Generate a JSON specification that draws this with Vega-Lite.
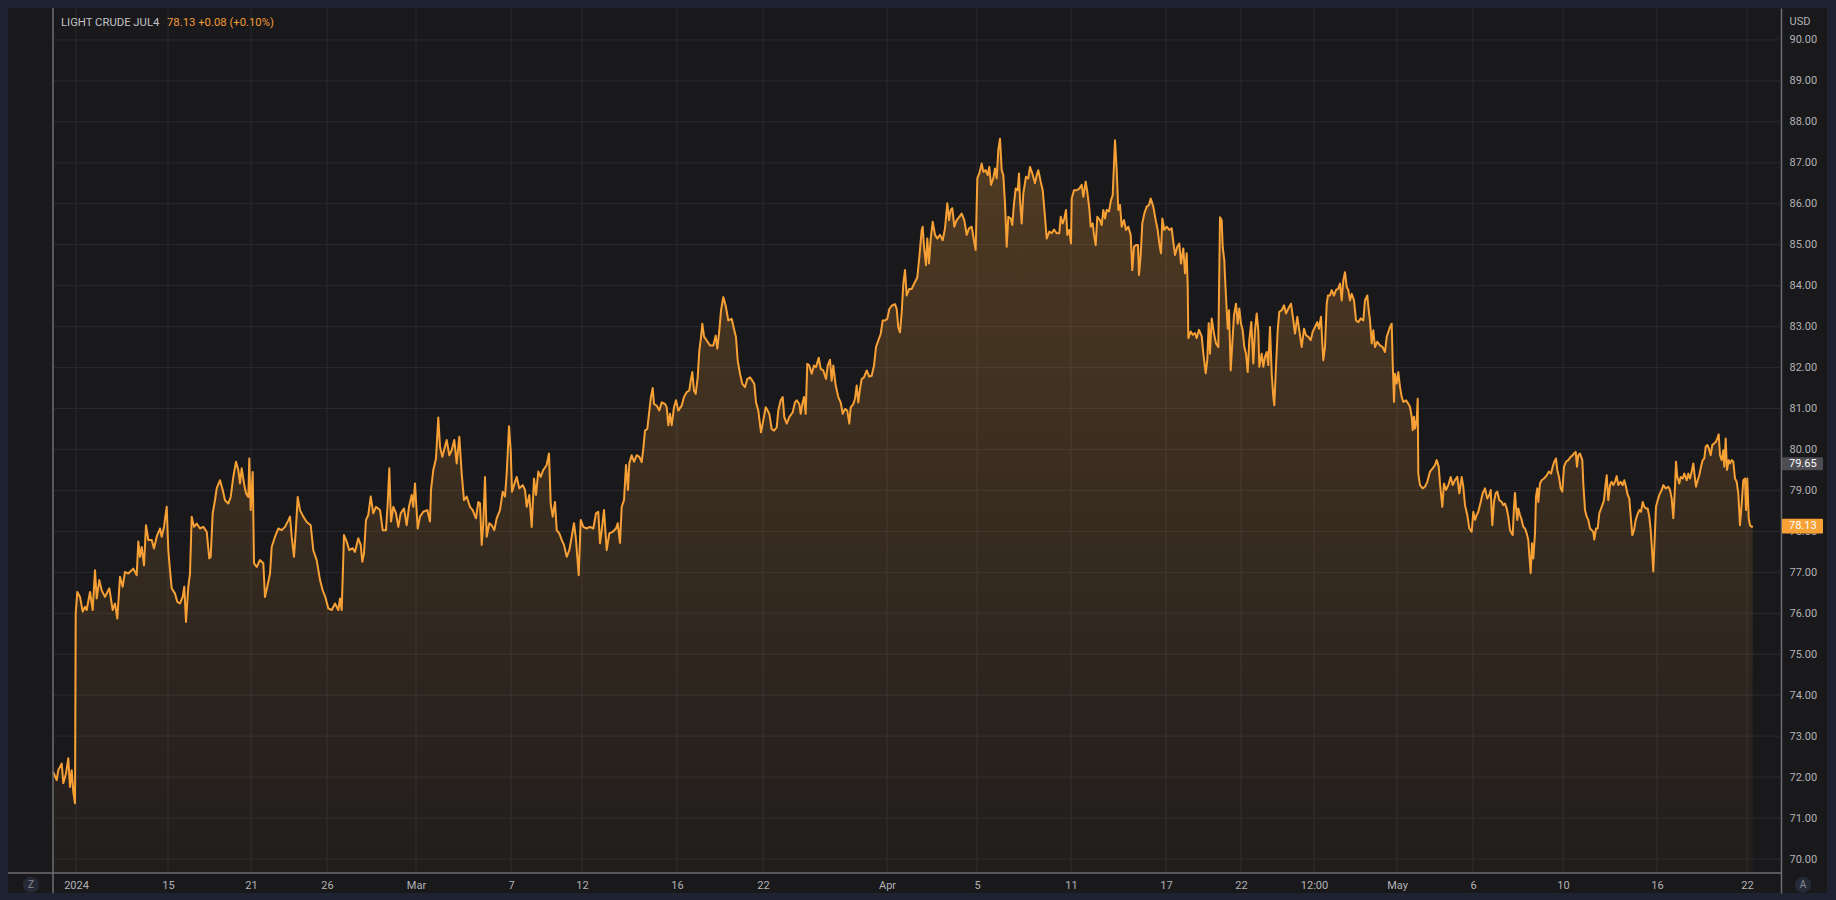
{
"$schema":"https://vega.github.io/schema/vega-lite/v6.json",
"width":1819,"height":885,
"autosize":{"type":"none"},
"padding":{"left":8,"top":8,"right":9,"bottom":7},
"background":"#1f2230",
"config":{"view":{"fill":"#19191c","stroke":null},"font":"Roboto"},
"datasets":{
"levels":[{"price":70},{"price":71},{"price":72},{"price":73},{"price":74},{"price":75},{"price":76},{"price":77},{"price":78},{"price":79},{"price":80},{"price":81},{"price":82},{"price":83},{"price":84},{"price":85},{"price":86},{"price":87},{"price":88},{"price":89},{"price":90}],
"ticks":[{"bar":23,"label":"2024"},{"bar":115,"label":"15"},{"bar":198,"label":"21"},{"bar":274,"label":"26"},{"bar":363,"label":"Mar"},{"bar":458,"label":"7"},{"bar":529,"label":"12"},{"bar":624,"label":"16"},{"bar":710,"label":"22"},{"bar":834,"label":"Apr"},{"bar":924,"label":"5"},{"bar":1018,"label":"11"},{"bar":1113,"label":"17"},{"bar":1188,"label":"22"},{"bar":1261,"label":"12:00"},{"bar":1344,"label":"May"},{"bar":1420,"label":"6"},{"bar":1510,"label":"10"},{"bar":1604,"label":"16"},{"bar":1694,"label":"22"}],
"series":[
{"bar":0,"price":72.13},{"bar":3.7,"price":71.93},{"bar":5.3,"price":72.17},{"bar":8.7,"price":72.33},{"bar":10.3,"price":71.85},{"bar":13,"price":72.09},{"bar":15.3,"price":72.46},{"bar":17,"price":71.76},{"bar":18.7,"price":72.17},{"bar":20.3,"price":71.64},{"bar":22,"price":71.36},{"bar":22.7,"price":76.0},{"bar":24.3,"price":76.52},{"bar":27,"price":76.4},{"bar":29.7,"price":76.04},{"bar":32,"price":76.16},{"bar":33.7,"price":76.08},{"bar":37,"price":76.52},{"bar":39.7,"price":76.08},{"bar":42,"price":77.05},{"bar":43.7,"price":76.36},{"bar":46.3,"price":76.81},{"bar":48.7,"price":76.56},{"bar":52,"price":76.4},{"bar":56.3,"price":76.61},{"bar":59.7,"price":76.08},{"bar":62,"price":76.24},{"bar":64.3,"price":75.87},{"bar":67,"price":76.89},{"bar":69.7,"price":76.65},{"bar":72,"price":77.01},{"bar":75.3,"price":76.97},{"bar":80.3,"price":77.09},{"bar":83.7,"price":76.93},{"bar":85.3,"price":77.75},{"bar":87,"price":77.38},{"bar":88.7,"price":77.62},{"bar":91,"price":77.17},{"bar":93,"price":78.15},{"bar":95.3,"price":77.79},{"bar":98.7,"price":77.79},{"bar":101,"price":77.58},{"bar":103.7,"price":77.87},{"bar":107,"price":78.07},{"bar":108.7,"price":77.87},{"bar":111,"price":78.11},{"bar":113.7,"price":78.6},{"bar":115.3,"price":77.54},{"bar":117,"price":77.05},{"bar":118.7,"price":76.61},{"bar":122,"price":76.48},{"bar":124.3,"price":76.28},{"bar":127,"price":76.24},{"bar":129.7,"price":76.4},{"bar":131.3,"price":76.65},{"bar":133,"price":75.79},{"bar":135.3,"price":76.65},{"bar":137,"price":76.97},{"bar":138.7,"price":78.36},{"bar":141,"price":78.11},{"bar":143.7,"price":78.19},{"bar":147,"price":78.07},{"bar":150.3,"price":78.11},{"bar":153.7,"price":77.99},{"bar":156.3,"price":77.34},{"bar":157.7,"price":77.38},{"bar":159.7,"price":78.44},{"bar":162,"price":78.76},{"bar":163.7,"price":79.05},{"bar":167,"price":79.25},{"bar":169.7,"price":79.01},{"bar":172,"price":78.76},{"bar":175.3,"price":78.68},{"bar":177.7,"price":78.84},{"bar":180.3,"price":79.33},{"bar":183,"price":79.7},{"bar":185.3,"price":79.5},{"bar":187,"price":79.17},{"bar":188.7,"price":79.54},{"bar":191,"price":79.17},{"bar":193,"price":78.93},{"bar":195.3,"price":78.84},{"bar":196.3,"price":79.78},{"bar":197.7,"price":78.52},{"bar":199.7,"price":79.45},{"bar":201,"price":77.22},{"bar":203.7,"price":77.13},{"bar":207,"price":77.3},{"bar":210.3,"price":77.22},{"bar":212,"price":76.4},{"bar":214.3,"price":76.65},{"bar":217,"price":76.97},{"bar":218.7,"price":77.62},{"bar":222,"price":77.87},{"bar":225.3,"price":78.07},{"bar":228.7,"price":78.03},{"bar":232,"price":78.11},{"bar":235.3,"price":78.27},{"bar":237,"price":78.36},{"bar":238.7,"price":77.87},{"bar":241,"price":77.38},{"bar":243,"price":78.11},{"bar":244.7,"price":78.84},{"bar":247,"price":78.52},{"bar":250.3,"price":78.36},{"bar":253.7,"price":78.23},{"bar":257.7,"price":78.15},{"bar":260.3,"price":77.54},{"bar":263.7,"price":77.3},{"bar":267,"price":76.81},{"bar":269.7,"price":76.56},{"bar":272.3,"price":76.4},{"bar":275.3,"price":76.12},{"bar":278.7,"price":76.08},{"bar":282,"price":76.24},{"bar":285.3,"price":76.08},{"bar":287,"price":76.36},{"bar":288.7,"price":76.08},
{"bar":291,"price":77.91},{"bar":293.7,"price":77.75},{"bar":296.3,"price":77.54},{"bar":299.7,"price":77.59},{"bar":302,"price":77.5},{"bar":305.3,"price":77.83},{"bar":307.7,"price":77.67},{"bar":309.3,"price":77.26},{"bar":311,"price":77.46},{"bar":313,"price":78.28},{"bar":315.3,"price":78.4},{"bar":317.7,"price":78.85},{"bar":320.3,"price":78.44},{"bar":323,"price":78.6},{"bar":327,"price":78.52},{"bar":329.7,"price":78.03},{"bar":333,"price":78.03},{"bar":334.7,"price":78.68},{"bar":336.3,"price":79.54},{"bar":338,"price":78.24},{"bar":340.3,"price":78.6},{"bar":343,"price":78.44},{"bar":345.3,"price":78.11},{"bar":347.7,"price":78.44},{"bar":351,"price":78.56},{"bar":353.7,"price":78.15},{"bar":356,"price":78.6},{"bar":358.7,"price":78.89},{"bar":360.3,"price":78.6},{"bar":362,"price":79.17},{"bar":364.7,"price":78.07},{"bar":367,"price":78.36},{"bar":370.3,"price":78.48},{"bar":374.3,"price":78.52},{"bar":377,"price":78.24},{"bar":378,"price":79.01},{"bar":380.3,"price":79.5},{"bar":383,"price":79.78},{"bar":385.3,"price":80.78},{"bar":387,"price":80.07},{"bar":389.3,"price":79.82},{"bar":391,"price":79.98},{"bar":393.7,"price":80.23},{"bar":396.3,"price":79.86},{"bar":398.7,"price":79.98},{"bar":401.3,"price":80.23},{"bar":403.7,"price":79.66},{"bar":406.3,"price":80.31},{"bar":408.7,"price":79.41},{"bar":411,"price":78.76},{"bar":413.7,"price":78.85},{"bar":417,"price":78.6},{"bar":419.7,"price":78.52},{"bar":423,"price":78.32},{"bar":425.3,"price":78.72},{"bar":427,"price":78.68},{"bar":428.7,"price":77.67},{"bar":430.3,"price":78.2},{"bar":432,"price":79.33},{"bar":433.7,"price":77.87},{"bar":436.3,"price":78.2},{"bar":438.7,"price":78.15},{"bar":441.3,"price":78.03},{"bar":443.7,"price":78.32},{"bar":447,"price":78.52},{"bar":449.7,"price":78.97},{"bar":452,"price":78.85},{"bar":453.7,"price":79.41},{"bar":456,"price":80.57},{"bar":457.7,"price":79.98},{"bar":459,"price":78.97},{"bar":461,"price":79.13},{"bar":463.7,"price":79.33},{"bar":466.3,"price":79.05},{"bar":469.7,"price":79.13},{"bar":472,"price":79.01},{"bar":473.7,"price":78.6},{"bar":476.3,"price":78.89},{"bar":478.7,"price":78.11},{"bar":481,"price":79.29},{"bar":483,"price":78.89},{"bar":485.3,"price":79.46},{"bar":487.7,"price":79.33},{"bar":490.3,"price":79.5},{"bar":493.7,"price":79.62},{"bar":496,"price":79.9},{"bar":497.7,"price":78.68},{"bar":499.7,"price":78.36},{"bar":502,"price":78.72},{"bar":503.7,"price":78.03},{"bar":506.3,"price":77.95},{"bar":508.7,"price":77.79},{"bar":511,"price":77.67},{"bar":513.7,"price":77.38},{"bar":516.3,"price":77.54},{"bar":518.7,"price":77.87},{"bar":521,"price":78.2},{"bar":523,"price":77.79},{"bar":525.7,"price":76.93},{"bar":527.7,"price":78.28},{"bar":530.3,"price":78.11},{"bar":533.7,"price":78.07},{"bar":537,"price":78.11},{"bar":540.3,"price":78.07},{"bar":543,"price":78.44},{"bar":545.3,"price":78.48},{"bar":547,"price":77.71},{"bar":548.7,"price":78.03},{"bar":551,"price":78.52},{"bar":553.7,"price":77.54},{"bar":556.3,"price":77.95},{"bar":559.7,"price":77.99},{"bar":563,"price":78.07},{"bar":564.7,"price":78.2},{"bar":567,"price":77.72},{"bar":568.7,"price":78.6},{"bar":571,"price":78.76},{"bar":573,"price":79.62},{"bar":575,"price":79.01},{"bar":576.3,"price":79.66},{"bar":578.7,"price":79.86},{"bar":581,"price":79.7},{"bar":583.7,"price":79.86},{"bar":586.3,"price":79.82},
{"bar":588.7,"price":79.69},{"bar":590.3,"price":80.02},{"bar":592,"price":80.46},{"bar":594.3,"price":80.5},{"bar":596,"price":80.87},{"bar":597.7,"price":81.24},{"bar":599.7,"price":81.5},{"bar":601,"price":81.11},{"bar":603.7,"price":81.07},{"bar":606.3,"price":80.95},{"bar":608.7,"price":81.15},{"bar":612,"price":81.11},{"bar":613.7,"price":81.03},{"bar":615.3,"price":80.59},{"bar":617,"price":80.87},{"bar":618.7,"price":80.59},{"bar":621,"price":81.03},{"bar":623,"price":81.2},{"bar":625.3,"price":80.95},{"bar":628.7,"price":81.07},{"bar":631,"price":81.28},{"bar":633.7,"price":81.4},{"bar":636.3,"price":81.44},{"bar":637.7,"price":81.68},{"bar":639.3,"price":81.89},{"bar":641,"price":81.44},{"bar":642.7,"price":81.36},{"bar":644.7,"price":81.76},{"bar":646.3,"price":82.41},{"bar":648,"price":82.74},{"bar":649.3,"price":83.07},{"bar":651,"price":82.76},{"bar":653.7,"price":82.66},{"bar":657,"price":82.54},{"bar":660.3,"price":82.54},{"bar":662.7,"price":82.78},{"bar":664.3,"price":82.46},{"bar":666.3,"price":82.9},{"bar":668,"price":83.39},{"bar":670.3,"price":83.72},{"bar":672.7,"price":83.51},{"bar":675.3,"price":83.15},{"bar":678.7,"price":83.19},{"bar":681,"price":82.94},{"bar":683,"price":82.74},{"bar":684.7,"price":82.17},{"bar":687,"price":81.85},{"bar":689.3,"price":81.6},{"bar":692,"price":81.52},{"bar":694.3,"price":81.72},{"bar":697,"price":81.76},{"bar":699.3,"price":81.68},{"bar":701.3,"price":81.6},{"bar":703,"price":81.15},{"bar":705.3,"price":80.95},{"bar":708,"price":80.42},{"bar":710.3,"price":80.71},{"bar":712.7,"price":81.03},{"bar":714.7,"price":80.95},{"bar":716.3,"price":80.87},{"bar":718.7,"price":80.5},{"bar":721,"price":80.46},{"bar":723.7,"price":80.54},{"bar":725.3,"price":80.95},{"bar":727.7,"price":81.2},{"bar":729.7,"price":81.28},{"bar":731.3,"price":80.79},{"bar":733.7,"price":80.63},{"bar":736.3,"price":80.79},{"bar":739.7,"price":80.91},{"bar":742,"price":81.15},{"bar":743.7,"price":81.2},{"bar":746.3,"price":81.11},{"bar":747.7,"price":80.87},{"bar":749.3,"price":81.11},{"bar":751,"price":81.28},{"bar":752.7,"price":80.87},{"bar":754.3,"price":82.09},{"bar":756.3,"price":82.05},{"bar":758.7,"price":81.85},{"bar":761,"price":82.05},{"bar":763,"price":82.01},{"bar":765.7,"price":82.24},{"bar":767.7,"price":81.97},{"bar":770.3,"price":81.93},{"bar":773,"price":81.72},{"bar":774.7,"price":82.05},{"bar":777,"price":82.19},{"bar":778.7,"price":81.68},{"bar":780.3,"price":82.05},{"bar":782.7,"price":81.56},{"bar":785.3,"price":81.28},{"bar":787.7,"price":81.15},{"bar":789.7,"price":80.87},{"bar":792,"price":80.99},{"bar":794.3,"price":80.95},{"bar":796.3,"price":80.63},{"bar":797.7,"price":81.03},{"bar":800.3,"price":81.11},{"bar":802,"price":81.24},{"bar":803.7,"price":81.56},{"bar":805.3,"price":81.15},{"bar":807,"price":81.48},{"bar":808.7,"price":81.72},{"bar":811,"price":81.76},{"bar":813.7,"price":81.93},{"bar":816.3,"price":81.78},{"bar":818.7,"price":81.8},{"bar":821,"price":82.05},{"bar":823,"price":82.5},{"bar":825.3,"price":82.66},{"bar":827.7,"price":82.82},{"bar":829.7,"price":83.15},{"bar":832,"price":83.15},{"bar":834.3,"price":83.19},{"bar":836.3,"price":83.43},{"bar":838.7,"price":83.51},{"bar":842,"price":83.55},{"bar":843.7,"price":83.43},{"bar":845.3,"price":82.98},{"bar":847,"price":82.86},{"bar":848.7,"price":83.35},{"bar":850.3,"price":84.04},{"bar":852,"price":84.38},{"bar":853.7,"price":83.76},{"bar":856.3,"price":83.92},{"bar":858.7,"price":83.92},{"bar":861,"price":84.04},{"bar":864.3,"price":84.2},{"bar":866.3,"price":84.69},
{"bar":868.7,"price":85.36},{"bar":869.7,"price":85.44},{"bar":871,"price":84.95},{"bar":873,"price":84.5},{"bar":874.3,"price":85.15},{"bar":876,"price":84.54},{"bar":877.7,"price":85.15},{"bar":879.7,"price":85.56},{"bar":882,"price":85.24},{"bar":884.3,"price":85.15},{"bar":887,"price":85.24},{"bar":889.7,"price":85.11},{"bar":892,"price":85.4},{"bar":894.3,"price":86.01},{"bar":896,"price":85.6},{"bar":897.7,"price":85.85},{"bar":899.3,"price":85.89},{"bar":901.3,"price":85.44},{"bar":903.7,"price":85.6},{"bar":906.3,"price":85.68},{"bar":908.7,"price":85.76},{"bar":911.3,"price":85.6},{"bar":913.7,"price":85.24},{"bar":916,"price":85.4},{"bar":918.7,"price":85.44},{"bar":920.3,"price":85.2},{"bar":922.7,"price":84.87},{"bar":924.3,"price":86.62},{"bar":926.3,"price":86.74},{"bar":928.7,"price":86.98},{"bar":930.3,"price":86.78},{"bar":932.7,"price":86.82},{"bar":934.7,"price":86.7},{"bar":936.3,"price":86.9},{"bar":938,"price":86.46},{"bar":940.3,"price":86.62},{"bar":942,"price":86.86},{"bar":943.7,"price":86.62},{"bar":945.3,"price":87.31},{"bar":947,"price":87.59},{"bar":948.7,"price":86.82},{"bar":950.3,"price":86.7},{"bar":952,"price":86.01},{"bar":953.7,"price":84.95},{"bar":955.3,"price":85.68},{"bar":957.7,"price":85.64},{"bar":959.3,"price":85.48},{"bar":961,"price":86.01},{"bar":962.7,"price":86.37},{"bar":964.7,"price":86.33},{"bar":966,"price":86.74},{"bar":967,"price":86.09},{"bar":968.7,"price":85.52},{"bar":970.3,"price":86.25},{"bar":973,"price":86.66},{"bar":975.3,"price":86.62},{"bar":977,"price":86.9},{"bar":979.3,"price":86.74},{"bar":982,"price":86.5},{"bar":983.7,"price":86.7},{"bar":985.3,"price":86.82},{"bar":987.7,"price":86.54},{"bar":989.7,"price":86.33},{"bar":992,"price":85.68},{"bar":993.7,"price":85.15},{"bar":996.3,"price":85.32},{"bar":998.7,"price":85.28},{"bar":1001,"price":85.37},{"bar":1003.7,"price":85.28},{"bar":1006.3,"price":85.28},{"bar":1007.7,"price":85.68},{"bar":1009.7,"price":85.52},{"bar":1011.3,"price":85.64},{"bar":1013,"price":85.85},{"bar":1014.3,"price":85.24},{"bar":1016.3,"price":85.36},{"bar":1018,"price":85.03},{"bar":1018.7,"price":86.13},{"bar":1021,"price":86.33},{"bar":1023.7,"price":86.33},{"bar":1026.3,"price":86.37},{"bar":1028.7,"price":86.46},{"bar":1030.3,"price":86.17},{"bar":1032.7,"price":86.54},{"bar":1034.3,"price":86.29},{"bar":1036.3,"price":85.89},{"bar":1037.7,"price":85.44},{"bar":1039.7,"price":85.52},{"bar":1041,"price":85.24},{"bar":1042.7,"price":84.99},{"bar":1044.3,"price":85.68},{"bar":1047,"price":85.6},{"bar":1048.7,"price":85.48},{"bar":1050.3,"price":85.85},{"bar":1052,"price":85.64},{"bar":1053.7,"price":85.85},{"bar":1056,"price":85.81},{"bar":1058,"price":86.09},{"bar":1059.7,"price":86.21},{"bar":1062,"price":87.55},{"bar":1063.7,"price":86.82},{"bar":1065.3,"price":85.85},{"bar":1067,"price":85.97},{"bar":1068.7,"price":85.44},{"bar":1071,"price":85.6},{"bar":1073,"price":85.36},{"bar":1075.3,"price":85.44},{"bar":1077.7,"price":85.24},{"bar":1079.3,"price":84.38},{"bar":1081,"price":84.95},{"bar":1083,"price":84.99},{"bar":1085,"price":84.99},{"bar":1086,"price":84.26},{"bar":1087.7,"price":84.75},{"bar":1089.3,"price":85.52},{"bar":1091.3,"price":85.76},{"bar":1093.7,"price":85.93},{"bar":1096,"price":85.97},{"bar":1097.7,"price":86.13},{"bar":1100.3,"price":85.93},{"bar":1102.7,"price":85.6},{"bar":1104.7,"price":85.36},{"bar":1106.3,"price":85.03},{"bar":1108,"price":84.79},{"bar":1109.3,"price":85.64},{"bar":1111.3,"price":85.36},{"bar":1113.7,"price":85.44},{"bar":1116.3,"price":85.36},{"bar":1118.7,"price":85.4},{"bar":1120.3,"price":85.07},{"bar":1122,"price":84.75},{"bar":1124.3,"price":84.95},{"bar":1126.3,"price":85.03},{"bar":1128,"price":84.54},{"bar":1130.3,"price":84.91},{"bar":1132,"price":84.3},{"bar":1133.7,"price":84.79},{"bar":1134.7,"price":83.98},{"bar":1135.3,"price":82.72},{"bar":1137.7,"price":82.88},{"bar":1139.7,"price":82.8},{"bar":1142,"price":82.84},{"bar":1143.7,"price":82.72},{"bar":1146,"price":82.92},{"bar":1148.7,"price":82.76},{"bar":1150.3,"price":82.35},{"bar":1152.7,"price":81.86},{"bar":1154.3,"price":82.19},{"bar":1155.7,"price":83.08},
{"bar":1157,"price":82.34},{"bar":1158.7,"price":83.2},{"bar":1161,"price":82.83},{"bar":1163,"price":82.59},{"bar":1165.3,"price":82.5},{"bar":1167,"price":85.67},{"bar":1168.7,"price":85.59},{"bar":1169.7,"price":84.94},{"bar":1171.3,"price":84.62},{"bar":1172,"price":84.21},{"bar":1173.7,"price":83.4},{"bar":1174.7,"price":82.95},{"bar":1176,"price":83.4},{"bar":1177.7,"price":81.93},{"bar":1179.3,"price":82.59},{"bar":1181,"price":83.28},{"bar":1183,"price":83.56},{"bar":1184.7,"price":83.07},{"bar":1186.3,"price":83.44},{"bar":1188,"price":83.07},{"bar":1189.7,"price":82.91},{"bar":1191.3,"price":82.5},{"bar":1193,"price":82.34},{"bar":1194.7,"price":81.89},{"bar":1196.3,"price":82.67},{"bar":1198.3,"price":83.11},{"bar":1200.3,"price":82.1},{"bar":1202,"price":82.91},{"bar":1203.7,"price":83.32},{"bar":1205.3,"price":82.91},{"bar":1206.3,"price":82.02},{"bar":1208.7,"price":82.34},{"bar":1210.3,"price":82.02},{"bar":1212,"price":82.26},{"bar":1213.7,"price":82.38},{"bar":1215.3,"price":82.06},{"bar":1217,"price":82.99},{"bar":1218.7,"price":81.85},{"bar":1220.3,"price":81.28},{"bar":1221.3,"price":81.08},{"bar":1223,"price":82.02},{"bar":1224.7,"price":82.91},{"bar":1226.3,"price":83.36},{"bar":1228.7,"price":83.4},{"bar":1231,"price":83.52},{"bar":1233,"price":83.32},{"bar":1235.3,"price":83.44},{"bar":1238,"price":83.56},{"bar":1240.3,"price":83.15},{"bar":1242,"price":82.83},{"bar":1244.3,"price":83.24},{"bar":1246.3,"price":82.91},{"bar":1248.7,"price":82.5},{"bar":1251,"price":82.95},{"bar":1253,"price":82.79},{"bar":1255.3,"price":82.75},{"bar":1257.7,"price":82.67},{"bar":1259.7,"price":82.87},{"bar":1262,"price":82.99},{"bar":1264.3,"price":83.11},{"bar":1266,"price":82.95},{"bar":1268,"price":83.24},{"bar":1269.3,"price":82.59},{"bar":1270.3,"price":82.18},{"bar":1272,"price":82.5},{"bar":1273.7,"price":83.56},{"bar":1275,"price":83.76},{"bar":1277,"price":83.76},{"bar":1278.7,"price":83.89},{"bar":1281,"price":83.76},{"bar":1283,"price":83.89},{"bar":1285.3,"price":83.93},{"bar":1287,"price":84.05},{"bar":1288.7,"price":83.64},{"bar":1290.3,"price":84.13},{"bar":1292,"price":84.33},{"bar":1293.7,"price":83.97},{"bar":1295.3,"price":83.89},{"bar":1297,"price":83.64},{"bar":1298.7,"price":83.8},{"bar":1301,"price":83.64},{"bar":1303,"price":83.15},{"bar":1305.3,"price":83.11},{"bar":1307.7,"price":83.2},{"bar":1310.3,"price":83.15},{"bar":1312,"price":83.64},{"bar":1314.3,"price":83.76},{"bar":1315.7,"price":83.4},{"bar":1317,"price":83.15},{"bar":1318.7,"price":82.59},{"bar":1320.3,"price":82.91},{"bar":1322,"price":82.5},{"bar":1324.3,"price":82.63},{"bar":1327,"price":82.54},{"bar":1329.7,"price":82.5},{"bar":1332,"price":82.38},{"bar":1333.7,"price":82.75},{"bar":1335.3,"price":82.87},{"bar":1337,"price":82.99},{"bar":1338.7,"price":83.07},{"bar":1339.7,"price":82.1},{"bar":1341,"price":81.16},{"bar":1342,"price":81.85},{"bar":1343.7,"price":81.61},{"bar":1345.3,"price":81.89},{"bar":1347,"price":81.53},{"bar":1348.7,"price":81.28},{"bar":1350.3,"price":81.16},{"bar":1353,"price":81.2},{"bar":1355.3,"price":81.12},{"bar":1357,"price":81.04},{"bar":1358.7,"price":80.8},{"bar":1359.7,"price":80.47},{"bar":1361,"price":80.8},{"bar":1362,"price":80.51},{"bar":1363.7,"price":80.72},{"bar":1364.7,"price":81.24},{"bar":1365.3,"price":79.41},{"bar":1367,"price":79.13},{"bar":1369.7,"price":79.05},{"bar":1372,"price":79.09},{"bar":1374.3,"price":79.21},{"bar":1377,"price":79.46},{"bar":1379.7,"price":79.54},{"bar":1382,"price":79.62},{"bar":1383.7,"price":79.74},{"bar":1385.7,"price":79.58},{"bar":1387,"price":79.17},{"bar":1389.3,"price":78.6},{"bar":1391,"price":79.17},{"bar":1393,"price":79.01},{"bar":1395.3,"price":79.13},{"bar":1397.7,"price":79.33},{"bar":1399.7,"price":79.13},{"bar":1402,"price":79.25},{"bar":1404.3,"price":79.33},{"bar":1406.3,"price":78.93},{"bar":1408.7,"price":79.33},{"bar":1410.3,"price":79.09},{"bar":1412,"price":78.64},{"bar":1414.3,"price":78.4},{"bar":1416.3,"price":78.07},{"bar":1418.7,"price":77.99},{"bar":1420.3,"price":78.48},{"bar":1422,"price":78.28},{"bar":1423.7,"price":78.4},{"bar":1425.3,"price":78.48},{"bar":1427.7,"price":78.72},{"bar":1429.7,"price":78.93},{"bar":1432,"price":79.05},{"bar":1434.3,"price":78.8},{"bar":1436.3,"price":78.89},{"bar":1437.7,"price":79.01},{"bar":1439.3,"price":78.15},{"bar":1441,"price":78.72},{"bar":1442.7,"price":78.93},{"bar":1444.3,"price":78.97},{"bar":1446.3,"price":78.76},
{"bar":1448.7,"price":78.72},{"bar":1450.3,"price":78.64},{"bar":1452,"price":78.68},{"bar":1453.7,"price":78.56},{"bar":1455.3,"price":78.36},{"bar":1457,"price":78.03},{"bar":1458.7,"price":77.95},{"bar":1459.7,"price":77.91},{"bar":1461,"price":78.6},{"bar":1462,"price":78.94},{"bar":1463,"price":78.6},{"bar":1464.3,"price":78.28},{"bar":1465.3,"price":78.56},{"bar":1467,"price":78.4},{"bar":1468.7,"price":78.28},{"bar":1470.3,"price":78.11},{"bar":1472,"price":78.07},{"bar":1473.7,"price":77.95},{"bar":1475.3,"price":77.79},{"bar":1476.3,"price":77.42},{"bar":1477.7,"price":76.98},{"bar":1479,"price":77.71},{"bar":1480.3,"price":77.34},{"bar":1482,"price":77.95},{"bar":1483,"price":78.85},{"bar":1484.3,"price":79.05},{"bar":1485.3,"price":78.72},{"bar":1487,"price":79.17},{"bar":1488.7,"price":79.25},{"bar":1491,"price":79.29},{"bar":1493.7,"price":79.37},{"bar":1496,"price":79.46},{"bar":1498,"price":79.41},{"bar":1499.7,"price":79.58},{"bar":1501.3,"price":79.7},{"bar":1503,"price":79.78},{"bar":1504.3,"price":79.5},{"bar":1506,"price":79.33},{"bar":1507.7,"price":79.05},{"bar":1509.3,"price":78.97},{"bar":1511,"price":79.58},{"bar":1513,"price":79.7},{"bar":1515.3,"price":79.74},{"bar":1517.7,"price":79.82},{"bar":1519.7,"price":79.86},{"bar":1521,"price":79.9},{"bar":1522.7,"price":79.94},{"bar":1524,"price":79.58},{"bar":1525.3,"price":79.86},{"bar":1527,"price":79.9},{"bar":1529.3,"price":79.74},{"bar":1530.3,"price":79.17},{"bar":1532,"price":78.52},{"bar":1533.7,"price":78.36},{"bar":1535.3,"price":78.28},{"bar":1537,"price":78.07},{"bar":1538.7,"price":78.03},{"bar":1540.3,"price":77.99},{"bar":1541.3,"price":77.8},{"bar":1543,"price":78.07},{"bar":1544.7,"price":78.07},{"bar":1546.3,"price":78.44},{"bar":1548.7,"price":78.6},{"bar":1551,"price":78.76},{"bar":1552.3,"price":79.09},{"bar":1553.7,"price":79.37},{"bar":1555.3,"price":78.76},{"bar":1557,"price":79.13},{"bar":1558.7,"price":79.21},{"bar":1560.3,"price":79.13},{"bar":1562,"price":79.21},{"bar":1563.7,"price":79.35},{"bar":1565.3,"price":79.13},{"bar":1567.7,"price":79.21},{"bar":1569.7,"price":79.13},{"bar":1571.3,"price":79.25},{"bar":1573,"price":79.09},{"bar":1574.7,"price":78.89},{"bar":1576.3,"price":78.8},{"bar":1578,"price":78.28},{"bar":1579.3,"price":77.91},{"bar":1581,"price":78.03},{"bar":1582.7,"price":78.28},{"bar":1584.3,"price":78.4},{"bar":1586.3,"price":78.52},{"bar":1588,"price":78.48},{"bar":1589.7,"price":78.72},{"bar":1591.3,"price":78.6},{"bar":1593,"price":78.56},{"bar":1594.7,"price":78.56},{"bar":1596.3,"price":78.36},{"bar":1597.7,"price":78.03},{"bar":1599,"price":77.54},{"bar":1600.3,"price":77.02},{"bar":1601.3,"price":77.59},{"bar":1603,"price":78.6},{"bar":1604.7,"price":78.76},{"bar":1606.3,"price":78.89},{"bar":1608.7,"price":79.01},{"bar":1610.3,"price":79.13},{"bar":1612.7,"price":79.05},{"bar":1615.3,"price":79.09},{"bar":1617,"price":79.01},{"bar":1618.7,"price":78.8},{"bar":1620.3,"price":78.32},{"bar":1622,"price":79.09},{"bar":1623,"price":79.7},{"bar":1624.3,"price":79.33},{"bar":1626.3,"price":79.17},{"bar":1627.7,"price":79.33},{"bar":1629.7,"price":79.29},{"bar":1631.3,"price":79.41},{"bar":1633.7,"price":79.25},{"bar":1635.3,"price":79.41},{"bar":1637,"price":79.29},{"bar":1638.7,"price":79.46},{"bar":1640.3,"price":79.66},{"bar":1642,"price":79.29},{"bar":1643,"price":79.09},{"bar":1644.7,"price":79.25},{"bar":1646.3,"price":79.37},{"bar":1648,"price":79.58},{"bar":1649.7,"price":79.74},{"bar":1651.3,"price":79.78},{"bar":1652.7,"price":80.07},{"bar":1654.3,"price":80.11},{"bar":1656,"price":80.02},{"bar":1657.7,"price":79.86},{"bar":1659.3,"price":80.11},{"bar":1661.3,"price":80.15},{"bar":1663,"price":80.19},{"bar":1664.3,"price":80.27},{"bar":1665.7,"price":80.37},{"bar":1667,"price":79.86},{"bar":1668.7,"price":79.74},{"bar":1670.3,"price":79.98},{"bar":1671.3,"price":79.58},{"bar":1672.7,"price":80.27},{"bar":1674,"price":79.5},{"bar":1675.7,"price":79.74},{"bar":1677,"price":79.66},{"bar":1678.7,"price":79.74},{"bar":1680.3,"price":79.7},{"bar":1682,"price":79.29},{"bar":1683.7,"price":79.21},{"bar":1685.3,"price":78.93},{"bar":1687,"price":78.15},{"bar":1688.7,"price":78.68},{"bar":1690.3,"price":79.25},{"bar":1692,"price":79.29},{"bar":1693,"price":78.52},{"bar":1694.3,"price":79.29},{"bar":1695.7,"price":78.32},{"bar":1697,"price":78.15},{"bar":1698.7,"price":78.11},{"bar":1699.7,"price":78.13}
]},
"layer":[
{"data":{"name":"levels"},"mark":{"type":"rule","color":"#2a2a2e","strokeWidth":1},
 "encoding":{
  "y":{"field":"price","type":"quantitative","title":"USD","scale":{"domain":[69.17,90.78],"nice":false,"zero":false},
   "axis":{"orient":"right","offset":-46,"values":[70,71,72,73,74,75,76,77,78,79,80,81,82,83,84,85,86,87,88,89,90],"format":".2f","grid":false,"ticks":false,"domain":true,"domainColor":"#6e6e72","domainWidth":1.5,"labelPadding":8,"labelFontSize":11,"labelColor":"#b2b2b5","labelFont":"Roboto","titleAngle":0,"titleX":8,"titleY":13,"titleAlign":"left","titleBaseline":"middle","titleFontSize":11,"titleFontWeight":"normal","titleColor":"#b2b2b5","titleFont":"Roboto"}},
  "x":{"datum":0},"x2":{"datum":1728}}},
{"data":{"name":"ticks"},"mark":{"type":"rule","color":"#2a2a2e","strokeWidth":1},
 "encoding":{
  "x":{"field":"bar","type":"quantitative","title":null,"scale":{"domain":[-45,1774],"nice":false,"zero":false},
   "axis":{"orient":"bottom","offset":-20,"values":[23,115,198,274,363,458,529,624,710,834,924,1018,1113,1188,1261,1344,1420,1510,1604,1694],"labelExpr":"['2024','15','21','26','Mar','7','12','16','22','Apr','5','11','17','22','12:00','May','6','10','16','22'][indexof([23,115,198,274,363,458,529,624,710,834,924,1018,1113,1188,1261,1344,1420,1510,1604,1694], datum.value)]","grid":false,"ticks":false,"domain":false,"labelPadding":6,"labelFontSize":11,"labelColor":"#b2b2b5","labelFont":"Roboto","labelOverlap":false,"labelFlush":false}},
  "y":{"datum":69.66},"y2":{"datum":90.78}}},
{"data":{"name":"series"},"mark":{"type":"area","color":{"gradient":"linear","x1":0,"y1":0,"x2":0,"y2":1,"stops":[{"offset":0,"color":"rgba(247,160,53,0.25)"},{"offset":1,"color":"rgba(247,160,53,0.03)"}]}},
 "encoding":{"x":{"field":"bar","type":"quantitative","title":null},"y":{"field":"price","type":"quantitative","title":"USD"},"y2":{"datum":69.66}}},
{"data":{"name":"series"},"mark":{"type":"line","color":"#f7a035","strokeWidth":2,"strokeJoin":"round"},
 "encoding":{"x":{"field":"bar","type":"quantitative","title":null},"y":{"field":"price","type":"quantitative","title":"USD"}}},
{"data":{"values":[{}]},"mark":{"type":"rule","color":"#6e6e72","strokeWidth":1.5},
 "encoding":{"x":{"datum":0},"y":{"datum":69.17},"y2":{"datum":90.78}}},
{"data":{"values":[{}]},"mark":{"type":"rule","color":"#6e6e72","strokeWidth":1.5},
 "encoding":{"y":{"datum":69.66},"x":{"datum":-45},"x2":{"datum":1728}}},
{"data":{"values":[{}]},"mark":{"type":"text","text":"LIGHT CRUDE JUL4","align":"left","baseline":"middle","fontSize":11.3,"color":"#c2c2c6","font":"Roboto"},
 "encoding":{"x":{"datum":8},"y":{"datum":90.41}}},
{"data":{"values":[{}]},"mark":{"type":"text","text":"78.13  +0.08 (+0.10%)","align":"left","baseline":"middle","fontSize":11.3,"color":"#f29b38","font":"Roboto"},
 "encoding":{"x":{"datum":114},"y":{"datum":90.41}}},
{"data":{"values":[{}]},"mark":{"type":"rect","color":"#4e4e52","cornerRadius":1},
 "encoding":{"x":{"datum":1729},"x2":{"datum":1770},"y":{"datum":79.49},"y2":{"datum":79.81}}},
{"data":{"values":[{}]},"mark":{"type":"rect","color":"#f7a035","cornerRadius":1},
 "encoding":{"x":{"datum":1729},"x2":{"datum":1770},"y":{"datum":77.95},"y2":{"datum":78.31}}},
{"data":{"values":[{}]},"mark":{"type":"text","text":"79.65","align":"left","baseline":"middle","fontSize":11,"color":"#ffffff","font":"Roboto"},
 "encoding":{"x":{"datum":1736},"y":{"datum":79.65}}},
{"data":{"values":[{}]},"mark":{"type":"text","text":"78.13","align":"left","baseline":"middle","fontSize":11,"color":"#ffffff","font":"Roboto"},
 "encoding":{"x":{"datum":1736},"y":{"datum":78.13}}},
{"data":{"values":[{}]},"mark":{"type":"point","shape":"circle","filled":true,"color":"#262a36","size":260,"opacity":1},
 "encoding":{"x":{"datum":-22},"y":{"datum":69.37}}},
{"data":{"values":[{}]},"mark":{"type":"point","shape":"circle","filled":true,"color":"#262a36","size":260,"opacity":1},
 "encoding":{"x":{"datum":1750},"y":{"datum":69.37}}},
{"data":{"values":[{}]},"mark":{"type":"text","text":"Z","align":"center","baseline":"middle","fontSize":10,"color":"#8a8d96","font":"Roboto"},
 "encoding":{"x":{"datum":-22},"y":{"datum":69.37}}},
{"data":{"values":[{}]},"mark":{"type":"text","text":"A","align":"center","baseline":"middle","fontSize":10,"color":"#8a8d96","font":"Roboto"},
 "encoding":{"x":{"datum":1750},"y":{"datum":69.37}}}
]
}
